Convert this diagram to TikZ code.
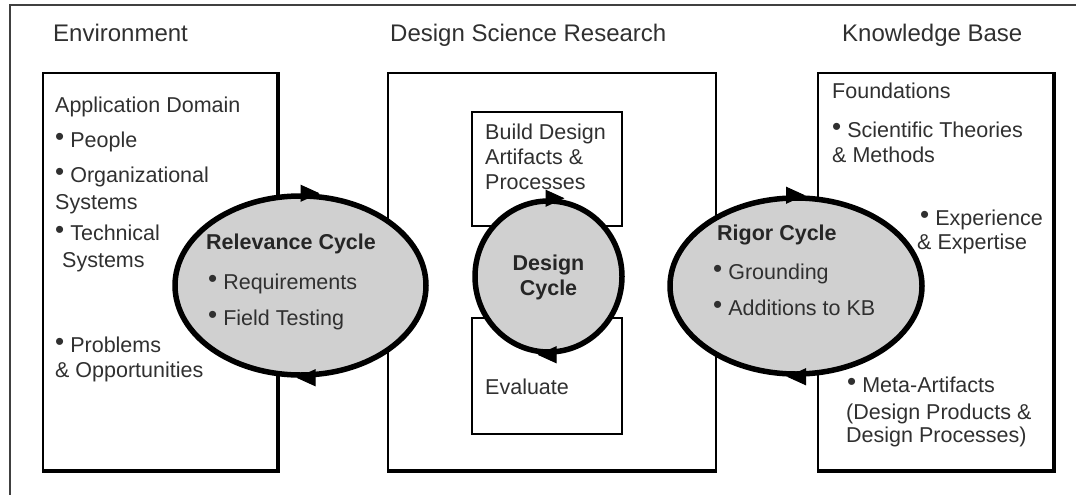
\documentclass[tikz,border=0pt]{standalone}
\usepackage{fontspec}
\setmainfont{Liberation Sans}
\usetikzlibrary{shapes.geometric,arrows.meta}
\newcommand{\bul}{\raisebox{2pt}{\fontsize{26}{26}\selectfont •}\hspace{6pt}}
\definecolor{txtgray}{HTML}{303030}
\definecolor{cycfill}{HTML}{D0D0D0}
\tikzset{
  txt/.style={anchor=base west, inner sep=0pt, font=\fontsize{21.5}{25}\selectfont, text=txtgray},
  hdr/.style={anchor=base west, inner sep=0pt, font=\fontsize{24}{28}\selectfont, text=txtgray},
  btxt/.style={inner sep=0pt, font=\fontsize{21.5}{25}\selectfont\bfseries, text=black!85},
  box/.style={draw=black, line width=1.8pt, inner sep=0pt},
  heavy/.style={draw=black, line width=3.2pt},
  cyc/.style={ellipse, draw=black, line width=5.5pt, fill=cycfill, inner sep=0pt},
  arr/.style={draw=black, line width=1pt, -{Triangle[length=19pt,width=17pt]}},
  frame/.style={draw=black!75, line width=1.5pt},
}
\begin{document}
\begin{tikzpicture}[x=1pt,y=-1pt]
\useasboundingbox (0,0) rectangle (1076,495);
% outer frame (cut at right and bottom)
\coordinate (fbl) at (10,495);
\coordinate (ftl) at (10,5);
\coordinate (ftr) at (1076,5);
\draw[frame] (fbl) -- (ftl) -- (ftr);
% main boxes
\node[box, minimum width=234pt, minimum height=397pt] (env) at (160,271.5) {};
\node[box, minimum width=328pt, minimum height=397pt] (dsr) at (552,271.5) {};
\node[box, minimum width=235pt, minimum height=397pt] (kb) at (935.5,271.5) {};
\draw[heavy] (env.north east) -- (env.south east) -- (env.south west);
\draw[heavy] (dsr.south east) -- (dsr.south west);
\draw[heavy, line width=4pt] (kb.north east) -- (kb.south east) -- (kb.south west);
% inner boxes
\node[box, minimum width=150pt, minimum height=114pt] (build) at (547,169) {};
\node[box, minimum width=150pt, minimum height=116pt] (eval) at (547,376) {};
% cycles
\node[cyc, minimum width=251pt, minimum height=179pt] (rel) at (300.5,285.5) {};
\node[cyc, minimum width=147pt, minimum height=151pt] (des) at (548.5,276.5) {};
\node[cyc, minimum width=252pt, minimum height=176pt] (rig) at (796,286) {};
% cycle arrows
\draw[arr] ([xshift=0pt]rel.north) -- ([xshift=19pt]rel.north);
\draw[arr] ([xshift=0pt]rel.south) -- ([xshift=-4pt]rel.south);
\draw[arr] ([xshift=-2pt]des.north) -- ([xshift=16pt]des.north);
\draw[arr] ([xshift=2pt]des.south) -- ([xshift=-11pt]des.south);
\draw[arr] ([xshift=-6pt]rig.north) -- ([xshift=9pt]rig.north);
\draw[arr] ([xshift=4pt]rig.south) -- ([xshift=-9pt]rig.south);
% headers
\node[hdr] (h1) at (53,41.5) {Environment};
\node[hdr] (h2) at (390,41.5) {Design Science Research};
\node[hdr] (h3) at (842,41.5) {Knowledge Base};
% environment box
\node[txt] (e1) at (55,112.5) {Application Domain};
\node[txt] (e2) at (55,147.5) {\bul People};
\node[txt] (e3) at (55,182.5) {\bul Organizational};
\node[txt] (e4) at (55,209.5) {Systems};
\node[txt] (e5) at (55,240.5) {\bul Technical};
\node[txt] (e6) at (62,267.5) {Systems};
\node[txt] (e7) at (55,352.5) {\bul Problems};
\node[txt] (e8) at (55,377.5) {\& Opportunities};
% relevance cycle text
\node[btxt, anchor=base west] (r1) at (206,249.5) {Relevance Cycle};
\node[txt] (r2) at (208,289.5) {\bul Requirements};
\node[txt] (r3) at (208,325.5) {\bul Field Testing};
% design science research
\node[txt] (b1) at (485,139.5) {Build Design};
\node[txt] (b2) at (485,164.5) {Artifacts \&};
\node[txt] (b3) at (485,189.5) {Processes};
\node[btxt, anchor=base] (d1) at (548.5,270.5) {Design};
\node[btxt, anchor=base] (d2) at (548.5,295.5) {Cycle};
\node[txt] (v1) at (485,394.5) {Evaluate};
% rigor cycle text
\node[btxt, anchor=base west] (g1) at (717,240.5) {Rigor Cycle};
\node[txt] (g2) at (713,279.5) {\bul Grounding};
\node[txt] (g3) at (713,315.5) {\bul Additions to KB};
% knowledge base
\node[txt] (k1) at (832,98.5) {Foundations};
\node[txt] (k2) at (832,137.5) {\bul Scientific Theories};
\node[txt] (k3) at (832,162.5) {\& Methods};
\node[txt] (k4) at (920,225.5) {\bul Experience};
\node[txt] (k5) at (917,249.5) {\& Expertise};
\node[txt] (k6) at (847,392.5) {\bul Meta-Artifacts};
\node[txt] (k7) at (846,419.5) {(Design Products \&};
\node[txt] (k8) at (846,442.5) {Design Processes)};
\end{tikzpicture}
\end{document}
